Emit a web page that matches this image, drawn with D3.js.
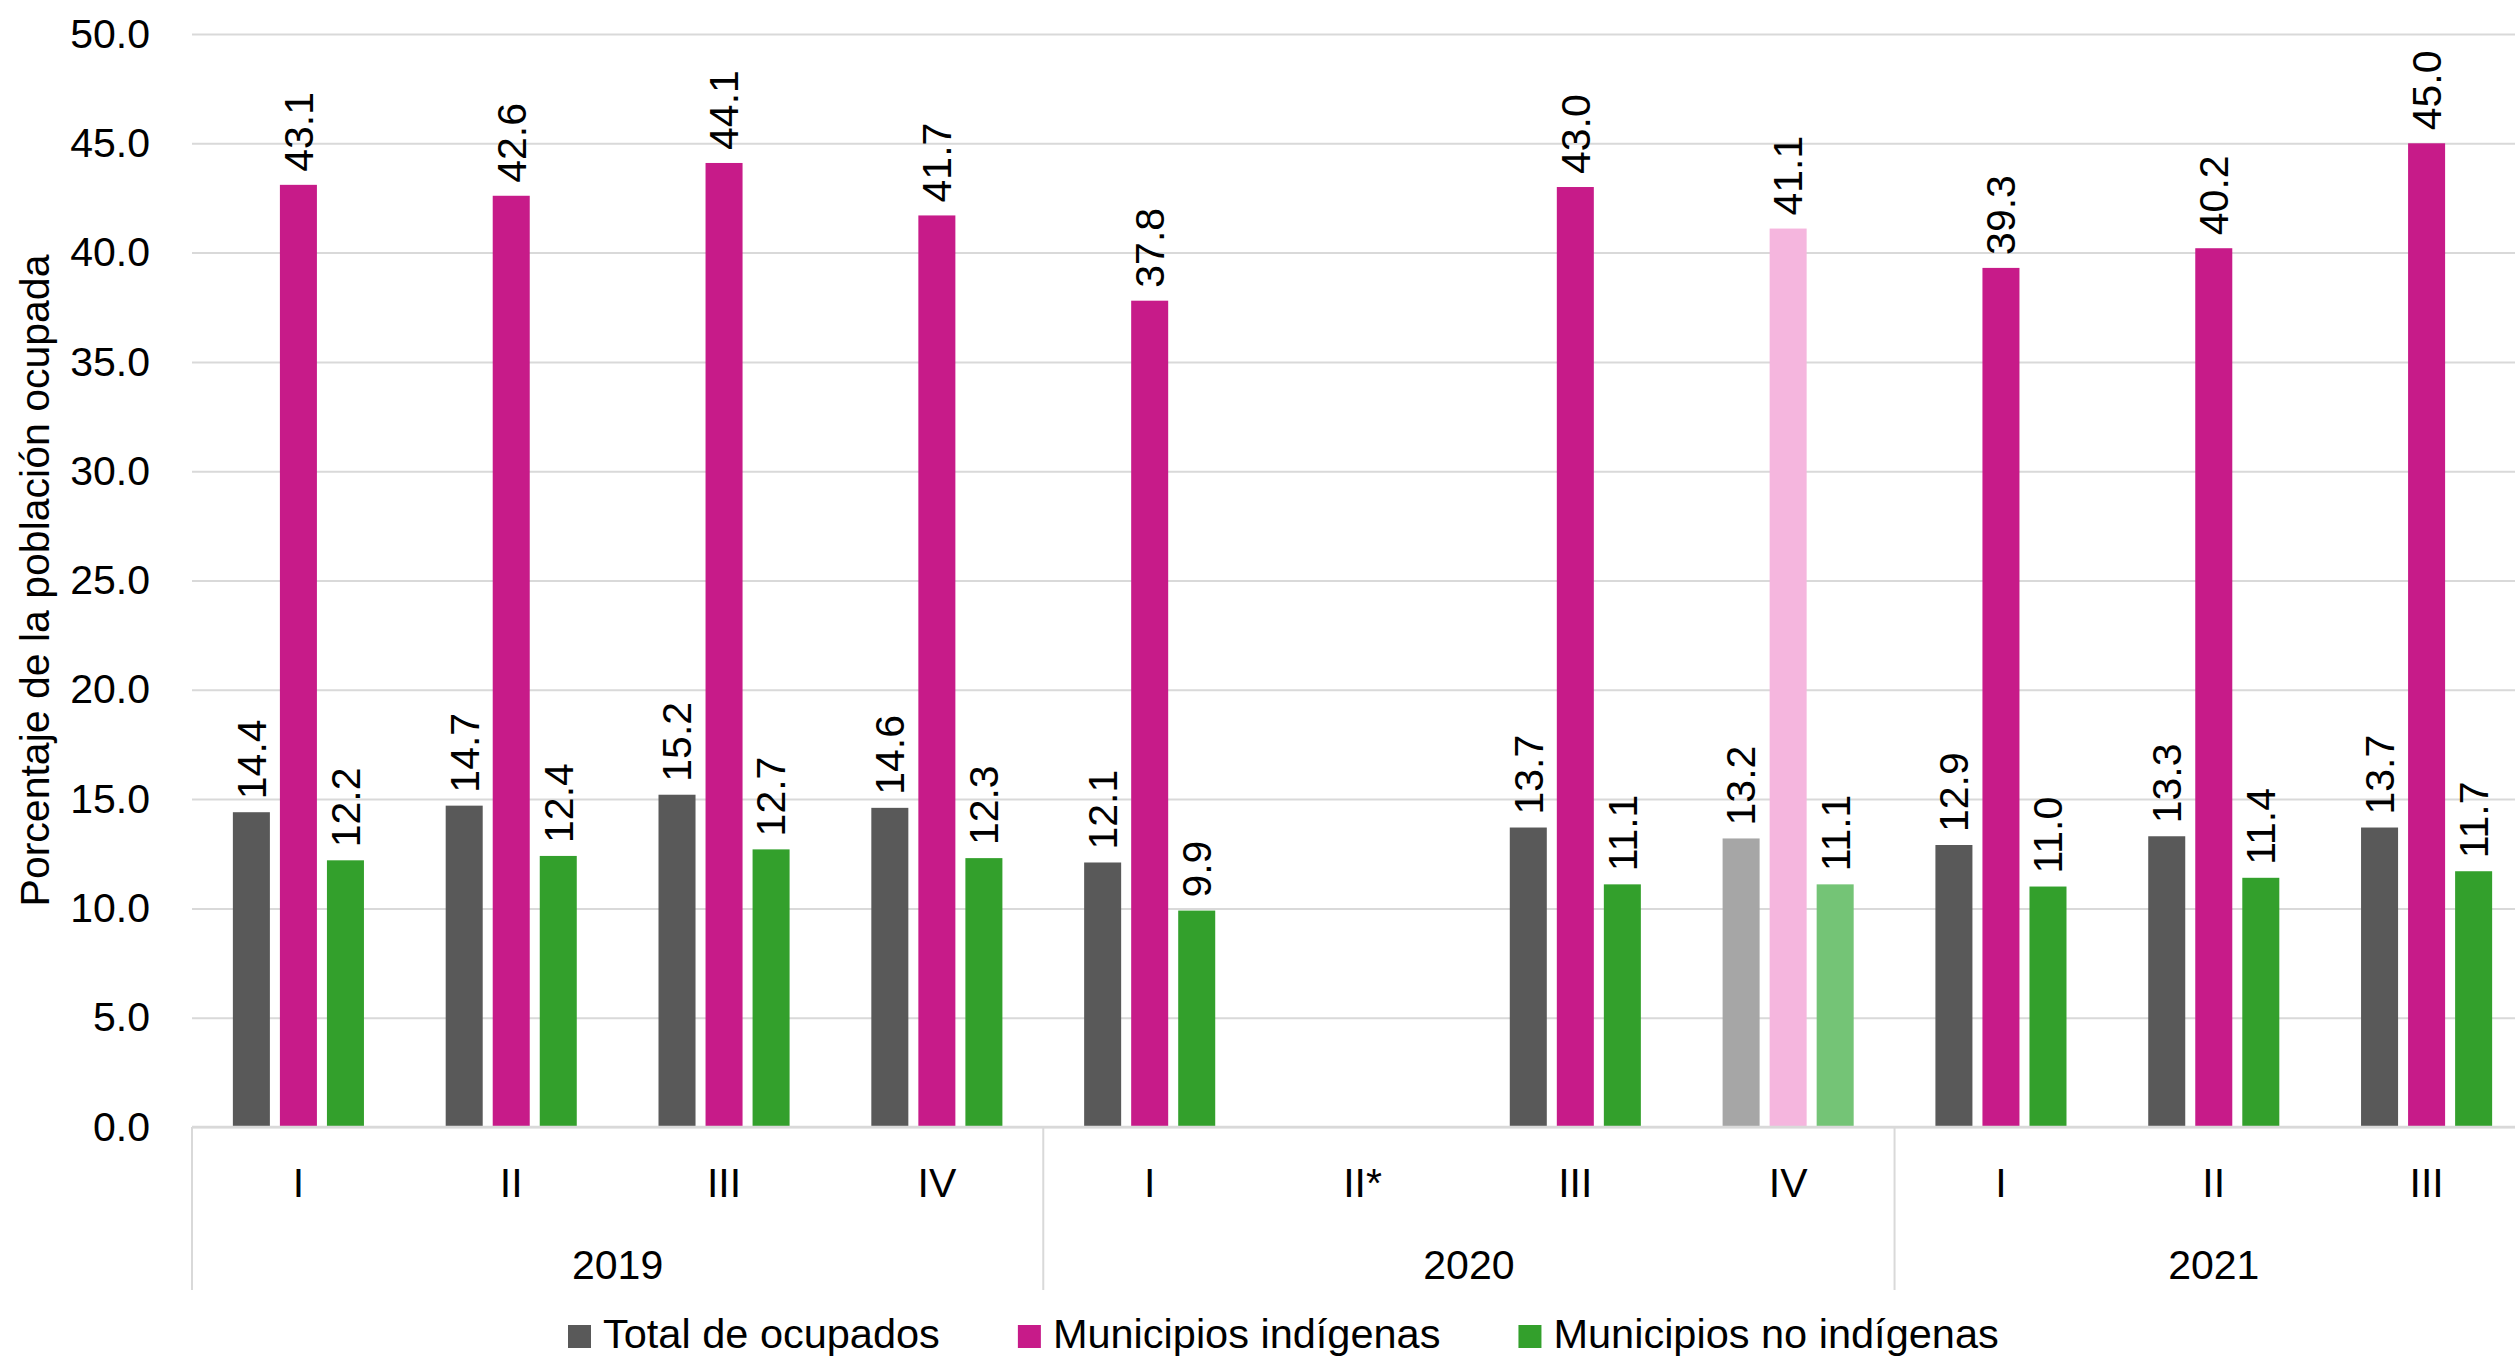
<!DOCTYPE html>
<html>
<head>
<meta charset="utf-8">
<script src="https://cdn.jsdelivr.net/npm/d3@7"></script>
<style>
  html, body { margin: 0; padding: 0; background: #fff; overflow: hidden; }
  text { font-family: "Liberation Sans", Arial, sans-serif; fill: #000; }
</style>
</head>
<body>
<div id="chart"></div>
<script>
// Data
var years = ["2019", "2020", "2021"];
var quarters = ["I", "II", "III", "IV", "I", "II*", "III", "IV", "I", "II", "III"];
var quarterYear = [0, 0, 0, 0, 1, 1, 1, 1, 2, 2, 2];
var seriesNames = ["Total de ocupados", "Municipios indígenas", "Municipios no indígenas"];
var totalOcupados = [14.4, 14.7, 15.2, 14.6, 12.1, null, 13.7, 13.2, 12.9, 13.3, 13.7];
var municipiosIndigenas = [43.1, 42.6, 44.1, 41.7, 37.8, null, 43.0, 41.1, 39.3, 40.2, 45.0];
var municipiosNoIndigenas = [12.2, 12.4, 12.7, 12.3, 9.9, null, 11.1, 11.1, 11.0, 11.4, 11.7];
var yTicks = [0, 5, 10, 15, 20, 25, 30, 35, 40, 45, 50];
var lightQuarter = 7; // IV 2020 drawn in lighter shades

var colors = ["#595959", "#C71B89", "#33A02C"];
var lightColors = ["#A6A6A6", "#F5B6DE", "#74C476"];

var W = 2515, H = 1357;
var margin = {top: 34, left: 192},
    plotW = 2341,
    plotH = 1127 - 34;

var svg = d3.select("#chart").append("svg")
    .attr("width", W).attr("height", H);

var g = svg.append("g")
    .attr("transform", "translate(" + margin.left + "," + margin.top + ")");

var idx = d3.range(quarters.length);
var x0 = d3.scaleBand().domain(idx).range([0, plotW])
    .paddingInner(0.337).paddingOuter(0.1685);
var x1 = d3.scaleBand().domain([0, 1, 2]).range([0, x0.bandwidth()])
    .paddingInner(0.213).paddingOuter(0.1065);
var y = d3.scaleLinear().domain([0, 50]).range([plotH, 0]);

// gridlines
var yAxis = d3.axisLeft(y).tickValues(yTicks)
    .tickSize(-plotW).tickPadding(42)
    .tickFormat(d3.format(".1f"));
var ya = g.append("g").call(yAxis);
ya.select(".domain").remove();
ya.selectAll(".tick line").attr("stroke", "#D9D9D9").attr("stroke-width", 2);
ya.selectAll(".tick text").style("font-size", "41px").attr("fill", "#000");

// y title
svg.append("text")
    .attr("transform", "translate(35," + (margin.top + plotH / 2) + ") rotate(-90)")
    .attr("text-anchor", "middle")
    .attr("dy", "0.35em")
    .style("font-size", "41px")
    .text("Porcentaje de la población ocupada");

// bars
var series = [totalOcupados, municipiosIndigenas, municipiosNoIndigenas];
var rows = [];
series.forEach(function(vals, s) {
    vals.forEach(function(v, i) {
        if (v !== null) rows.push({s: s, i: i, v: v});
    });
});

var bars = g.selectAll(".bar").data(rows).enter();
bars.append("rect")
    .attr("x", function(d) { return x0(d.i) + x1(d.s); })
    .attr("width", x1.bandwidth())
    .attr("y", function(d) { return y(d.v); })
    .attr("height", function(d) { return plotH - y(d.v); })
    .attr("fill", function(d) { return d.i === lightQuarter ? lightColors[d.s] : colors[d.s]; });

bars.append("text")
    .attr("transform", function(d) {
        return "translate(" + (x0(d.i) + x1(d.s) + x1.bandwidth() / 2) + "," + (y(d.v) - 13) + ") rotate(-90)";
    })
    .attr("dy", "0.35em")
    .style("font-size", "41px")
    .text(function(d) { return d3.format(".1f")(d.v); });

// x axis line
g.append("line")
    .attr("x1", 0).attr("x2", plotW)
    .attr("y1", plotH).attr("y2", plotH)
    .attr("stroke", "#D9D9D9").attr("stroke-width", 2.5);

// quarter labels
g.selectAll(".q").data(idx).enter().append("text")
    .attr("x", function(i) { return x0(i) + x0.bandwidth() / 2; })
    .attr("y", plotH + 70)
    .attr("text-anchor", "middle")
    .style("font-size", "41px")
    .text(function(i) { return quarters[i]; });

// year groups and separators
var step = x0.step();
var yearBounds = years.map(function(yr, k) {
    var members = idx.filter(function(i) { return quarterYear[i] === k; });
    return {yr: yr, start: d3.min(members) * step, end: (d3.max(members) + 1) * step};
});
var seps = [0].concat(yearBounds.map(function(b) { return b.end; }));
g.selectAll(".sep").data(seps).enter().append("line")
    .attr("x1", function(d) { return d; }).attr("x2", function(d) { return d; })
    .attr("y1", plotH).attr("y2", plotH + 163)
    .attr("stroke", "#D9D9D9").attr("stroke-width", 2);

g.selectAll(".yr").data(yearBounds).enter().append("text")
    .attr("x", function(b) { return (b.start + b.end) / 2; })
    .attr("y", plotH + 152)
    .attr("text-anchor", "middle")
    .style("font-size", "41px")
    .text(function(b) { return b.yr; });

// legend
var lx = 568;
seriesNames.forEach(function(name, s) {
    svg.append("rect")
        .attr("x", lx).attr("y", 1325)
        .attr("width", 23).attr("height", 23)
        .attr("fill", colors[s]);
    var t = svg.append("text")
        .attr("x", lx + 35).attr("y", 1348)
        .style("font-size", "41.5px")
        .text(name);
    lx = lx + 35 + t.node().getComputedTextLength() + 78;
});
</script>
</body>
</html>
